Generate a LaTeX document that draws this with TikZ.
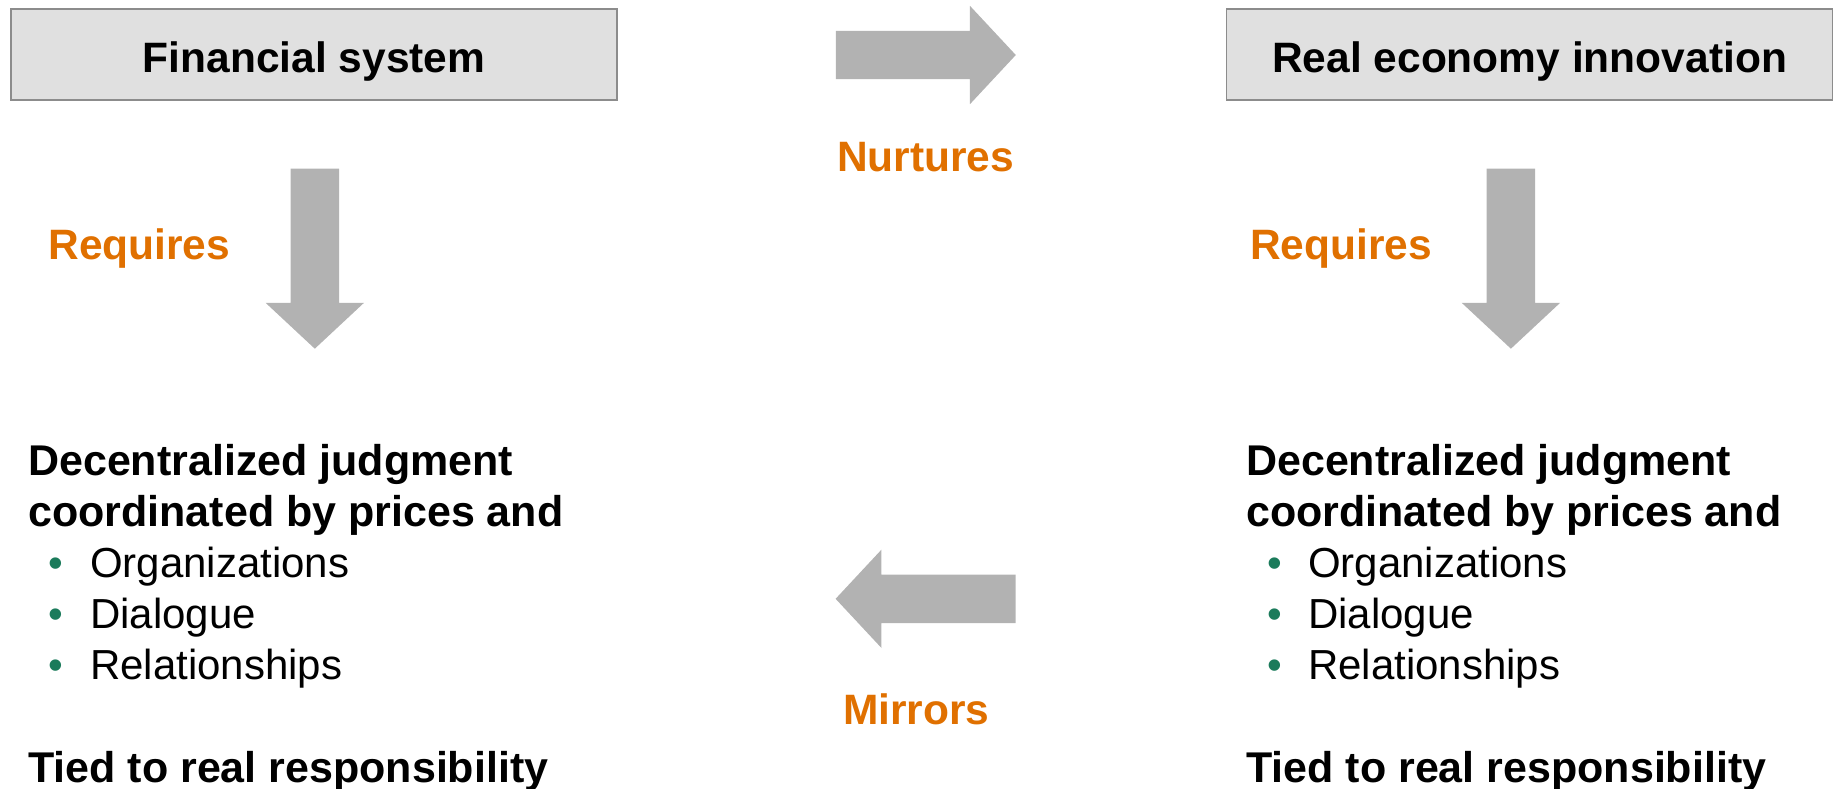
\documentclass[tikz,border=0pt]{standalone}
\usepackage{fontspec}
\setmainfont{Liberation Sans}
\usetikzlibrary{shapes.arrows}

\definecolor{boxgray}{HTML}{E0E0E0}
\definecolor{boxline}{HTML}{8C8C8C}
\definecolor{arrowgray}{HTML}{B2B2B2}
\definecolor{verborange}{HTML}{E07000}
\definecolor{dotgreen}{HTML}{1B7B5B}

\begin{document}
\begin{tikzpicture}[x=1pt, y=-1pt, every node/.style={
	inner sep=0pt
	, font=\fontsize{42}{51.1}\selectfont
%	, draw
}
, topbox/.style={draw=boxline, line width=1.5pt, fill=boxgray
	, minimum width=606pt, minimum height=91pt
	, text height=36.6pt, text depth=0pt
	, font=\fontsize{42.5}{51.1}\selectfont\bfseries}
, verb/.style={anchor=base, text=verborange, font=\fontsize{42.5}{51.1}\selectfont\bfseries}
, bigarrow/.style={single arrow, fill=arrowgray, anchor=tail
	, inner xsep=0pt, inner ysep=24pt, minimum height=180pt
	, single arrow head extend=25pt, single arrow tip angle=94}
, headline/.style={anchor=base west, font=\fontsize{43}{51.1}\selectfont\bfseries}
, dotitem/.style={anchor=base west}
]
\useasboundingbox (0,0) rectangle (1835,788);

\node[topbox](finsys) at(314.2,54.4) {Financial system};
\node[topbox](realecon) at(1529.6,54.4) {Real economy innovation};

\node[bigarrow](nurtarrow) at(835.6,55) {};
\node[bigarrow, rotate=-90](reqarrowl) at(314.8,168.5) {};
\node[bigarrow, rotate=-90](reqarrowr) at(1510.9,168.5) {};
\node[bigarrow, rotate=180](mirrarrow) at(1015.8,598.8) {};

\node[verb](nurtures) at(925.7,171) {Nurtures};
\node[verb](requiresl) at(139.3,259) {Requires};
\node[verb](requiresr) at(1341.2,259) {Requires};
\node[verb](mirrors) at(916.3,724.5) {Mirrors};

\foreach \side/\x in {l/28, r/1246}{
	\node[headline](dec\side) at(\x, 475.5) {Decentralized judgment};
	\node[headline](coord\side) at(\x, 526.6) {coordinated by prices and};
	\foreach [count=\i] \entry in {Organizations, Dialogue, Relationships}{
		\node[dotitem](item\side\i) at(\x+62, 526.6+51.1*\i)
			{\llap{\textcolor{dotgreen}{\textbullet}\hspace{26.5pt}}\entry};
	}
	\node[headline](tied\side) at(\x, 782.1) {Tied to real responsibility};
}

\end{tikzpicture}
\end{document}
